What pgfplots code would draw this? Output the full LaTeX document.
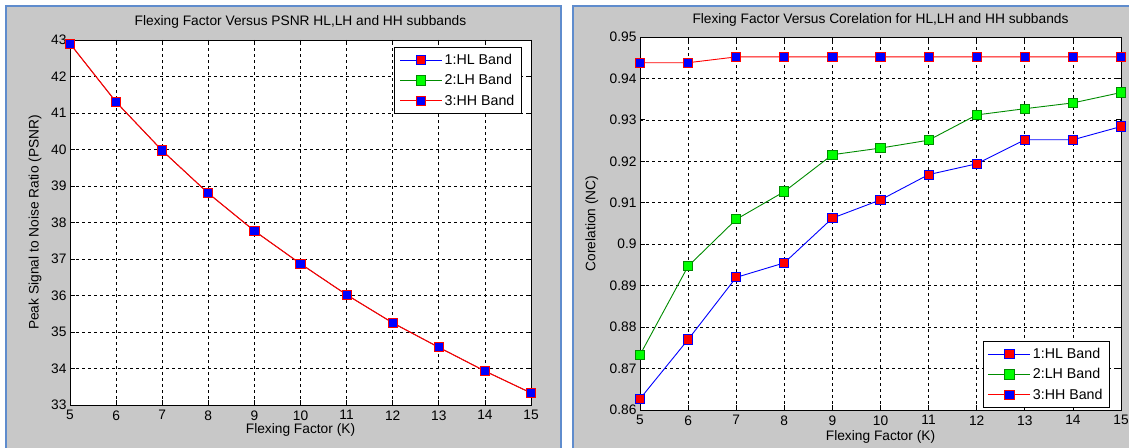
\documentclass[border=0pt]{standalone}
\usepackage{fontspec}
\setmainfont{Liberation Sans}
\usepackage{pgfplots}
\pgfplotsset{compat=1.18}
\definecolor{panelgray}{RGB}{200,200,200}
\definecolor{frameblue}{RGB}{95,140,205}
\definecolor{lhface}{RGB}{0,255,0}
\definecolor{lhline}{RGB}{0,140,0}

\pgfplotsset{
  matfig/.style={
    scale only axis,
    xmin=5, xmax=15, xtick={5,6,...,15},
    grid=major,
    major grid style={black, line width=0.7bp, dash pattern=on 3bp off 3bp},
    axis line style={black, line width=0.8bp},
    tick style={black, line width=0.8bp},
    major tick length=5bp,
    tick align=inside,
    axis background/.style={fill=white},
    font=\fontsize{13.8}{15}\selectfont,
    /pgf/number format/assume math mode=true,
    xticklabel style={yshift=-2bp},
    legend cell align=left,
    legend style={draw=black, line width=0.8bp, fill=white,
      font=\fontsize{14.3}{15}\selectfont, row sep=4.5bp, inner xsep=5bp, inner ysep=5bp},
    legend image code/.code={\draw[mark repeat=2,mark phase=2] plot coordinates {(0bp,0bp)(21bp,0bp)(42bp,0bp)};},
  },
  hl/.style={blue, line width=0.9bp, mark=square*, mark size=4.6bp,
    mark options={solid, fill=red, draw=blue, line width=1bp}},
  lh/.style={lhline, line width=0.9bp, mark=square*, mark size=4.6bp,
    mark options={solid, fill=lhface, draw=lhline, line width=1bp}},
  hh/.style={red, line width=0.9bp, mark=square*, mark size=4.6bp,
    mark options={solid, fill=blue, draw=red, line width=1bp}},
}

\begin{document}
\begin{tikzpicture}
\path[use as bounding box] (0bp,0bp) rectangle (1129bp,448bp);
% panels
\fill[white] (0bp,0bp) rectangle (1129bp,448bp);
\fill[panelgray] (7bp,0bp) rectangle (560bp,441bp);
\fill[panelgray] (574bp,0bp) rectangle (1129bp,441bp);
\draw[frameblue, line width=2.5bp] (6bp,0bp) -- (6bp,442bp) -- (561bp,442bp) -- (561bp,0bp);
\draw[frameblue, line width=2.5bp] (573bp,0bp) -- (573bp,442bp) -- (1129bp,442bp);

% left: PSNR (the three bands coincide, HH drawn on top)
\begin{axis}[matfig, at={(70bp,43bp)}, anchor=south west, width=461bp, height=365bp,
  ymin=33, ymax=43, ytick={33,34,...,43},
  title={Flexing Factor Versus PSNR HL,LH and HH subbands},
  title style={at={(axis description cs:0.5,1)}, anchor=center, yshift=12bp},
  xlabel={Flexing Factor (K)},
  xlabel style={at={(axis description cs:0.5,0)}, anchor=center, yshift=-25bp},
  ylabel={Peak Signal to Noise Ratio (PSNR)},
  ylabel style={at={(axis description cs:-0.076,0.5)}, anchor=center},
  legend style={at={(0.98,0.981)}, anchor=north east}]
\addplot[hl, line width=0.4bp] coordinates {(5,42.9)(6,41.3)(7,39.97)(8,38.8)(9,37.77)(10,36.87)(11,36.02)(12,35.25)(13,34.58)(14,33.93)(15,33.33)};
\addplot[lh, line width=0.4bp] coordinates {(5,42.9)(6,41.3)(7,39.97)(8,38.8)(9,37.77)(10,36.87)(11,36.02)(12,35.25)(13,34.58)(14,33.93)(15,33.33)};
\addplot[hh, line width=1.1bp] coordinates {(5,42.9)(6,41.3)(7,39.97)(8,38.8)(9,37.77)(10,36.87)(11,36.02)(12,35.25)(13,34.58)(14,33.93)(15,33.33)};
\legend{1:HL Band,2:LH Band,3:HH Band}
\end{axis}

% right: correlation
\begin{axis}[matfig, at={(640bp,38bp)}, anchor=south west, width=481bp, height=373bp,
  ymin=0.86, ymax=0.95, ytick={0.86,0.87,0.88,0.89,0.90,0.91,0.92,0.93,0.94,0.95},
  title={Flexing Factor Versus Corelation for HL,LH and HH subbands},
  title style={at={(axis description cs:0.5,1)}, anchor=center, yshift=11bp},
  xlabel={Flexing Factor (K)},
  xlabel style={at={(axis description cs:0.5,0)}, anchor=center, yshift=-27bp},
  ylabel={Corelation (NC)},
  ylabel style={at={(axis description cs:-0.1,0.5)}, anchor=center},
  legend style={at={(0.977,0.005)}, anchor=south east}]
\addplot[hl] coordinates {(5,0.8627)(6,0.8770)(7,0.8920)(8,0.8955)(9,0.9063)(10,0.9107)(11,0.9168)(12,0.9194)(13,0.9252)(14,0.9252)(15,0.9284)};
\addplot[lh] coordinates {(5,0.8733)(6,0.8947)(7,0.9060)(8,0.9127)(9,0.9216)(10,0.9232)(11,0.9251)(12,0.9312)(13,0.9327)(14,0.9341)(15,0.9366)};
\addplot[hh] coordinates {(5,0.9438)(6,0.9438)(7,0.9452)(8,0.9452)(9,0.9452)(10,0.9452)(11,0.9452)(12,0.9452)(13,0.9452)(14,0.9452)(15,0.9452)};
\legend{1:HL Band,2:LH Band,3:HH Band}
\end{axis}
\end{tikzpicture}
\end{document}
